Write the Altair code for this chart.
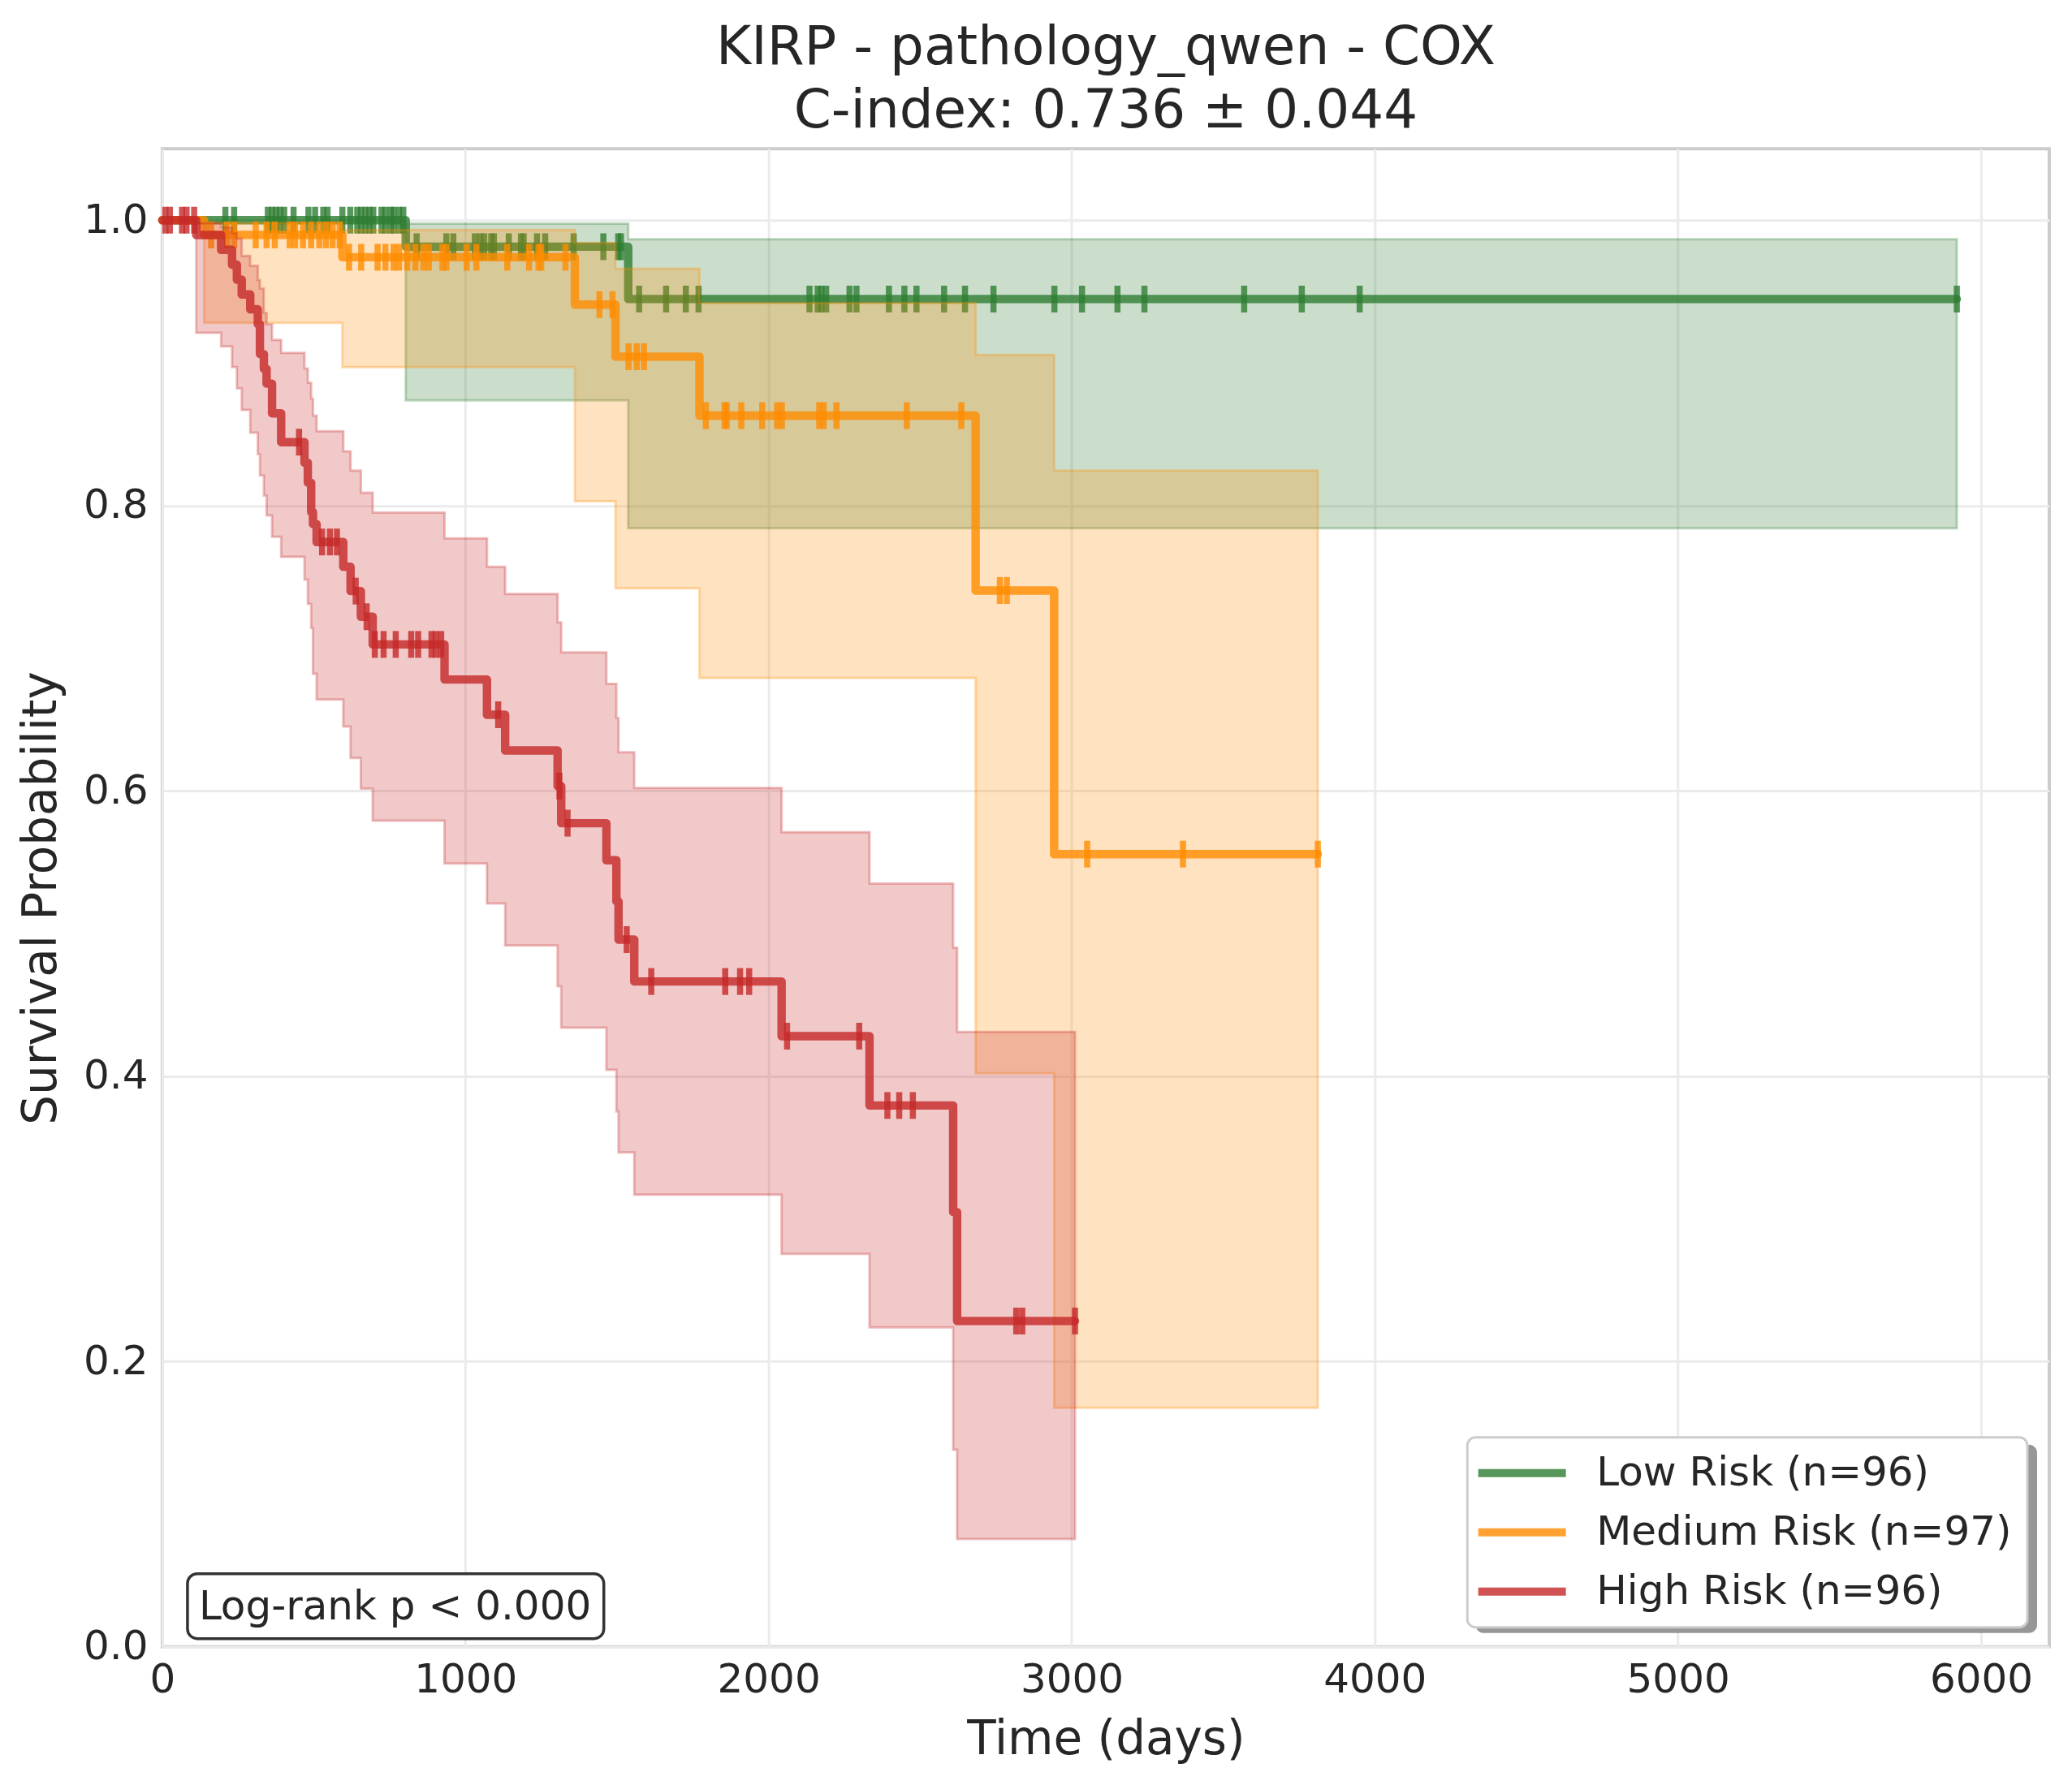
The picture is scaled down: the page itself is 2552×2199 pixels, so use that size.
import altair as alt
import pandas as pd

GROUPS = ["Low Risk (n=96)", "Medium Risk (n=97)", "High Risk (n=96)"]
COLORS = ["#2E7D32", "#FF8C00", "#C62828"]

# Kaplan-Meier steps (time in days, survival, CI lower/upper)
LOW_T = [0, 803, 1537]
LOW_S = [1.0, 0.9814, 0.9447]
LOW_LO = [1.0, 0.8737, 0.7840]
LOW_HI = [1.0, 0.9975, 0.9866]
LOW_END = 5920
LOW_CENS = [208, 237, 348, 362, 375, 388, 402, 433, 482, 504, 531, 545, 594, 620,
            643, 656, 670, 683, 696, 723, 736, 754, 763, 781, 795, 839, 937, 960,
            1031, 1049, 1062, 1085, 1094, 1143, 1183, 1192, 1236, 1263, 1357, 1455,
            1504, 1513, 1573, 1662, 1727, 1769, 2135, 2162, 2174, 2190, 2267, 2290,
            2397, 2448, 2488, 2579, 2648, 2742, 2943, 3034, 3151, 3240, 3569, 3759,
            3950, 5920]

MED_T = [0, 138, 594, 1361, 1495, 1772, 2683, 2942]
MED_S = [1.0, 0.9897, 0.974, 0.9408, 0.9043, 0.863, 0.7404, 0.5556]
MED_LO = [1.0, 0.928, 0.897, 0.803, 0.742, 0.679, 0.402, 0.1675]
MED_HI = [1.0, 0.998, 0.9932, 0.984, 0.966, 0.942, 0.9056, 0.8245]
MED_END = 3812
MED_CENS = [161, 214, 237, 308, 344, 371, 420, 438, 464, 491, 518, 540, 562, 585,
            616, 656, 710, 736, 763, 781, 808, 835, 861, 879, 924, 937, 1004, 1036,
            1138, 1210, 1241, 1250, 1330, 1442, 1485, 1538, 1565, 1589, 1793, 1855,
            1862, 1910, 1979, 2028, 2044, 2167, 2182, 2224, 2456, 2636, 2763, 2786,
            3051, 3367, 3812]

HIGH_T = [0, 112, 194, 230, 246, 262, 290, 315, 322, 335, 344, 362, 392, 469, 480,
          491, 497, 509, 597, 621, 655, 694, 931, 1071, 1131, 1304, 1316, 1465, 1498,
          1505, 1557, 2043, 2333, 2609, 2622]
HIGH_S = [1.0, 0.9896, 0.9792, 0.9688, 0.9583, 0.9479, 0.9375, 0.9271, 0.9062, 0.8958,
          0.8854, 0.8646, 0.8444, 0.830, 0.816, 0.7954, 0.787, 0.7744, 0.757, 0.740,
          0.722, 0.7026, 0.678, 0.6533, 0.6283, 0.6033, 0.5773, 0.5513, 0.5225, 0.4957,
          0.4663, 0.428, 0.3794, 0.3047, 0.2283]
HIGH_LO = [1.0, 0.921, 0.9115, 0.897, 0.882, 0.867, 0.851, 0.836, 0.821, 0.807, 0.793,
           0.778, 0.764, 0.748, 0.731, 0.714, 0.682, 0.664, 0.645, 0.623, 0.6015, 0.579,
           0.549, 0.521, 0.4915, 0.463, 0.434, 0.4044, 0.3752, 0.3464, 0.3169, 0.2753,
           0.2238, 0.138, 0.0755]
HIGH_HI = [1.0, 0.998, 0.995, 0.991, 0.987, 0.975, 0.968, 0.958, 0.952, 0.935, 0.927,
           0.916, 0.907, 0.896, 0.886, 0.875, 0.863, 0.852, 0.838, 0.8245, 0.809, 0.795,
           0.777, 0.757, 0.738, 0.718, 0.697, 0.675, 0.651, 0.627, 0.602, 0.571, 0.535,
           0.490, 0.431]
HIGH_END = 3011
HIGH_CENS = [10, 25, 65, 80, 105, 451, 527, 553, 576, 638, 674, 701, 730, 770, 821,
             844, 888, 902, 920, 1108, 1310, 1337, 1532, 1613, 1857, 1906, 1936, 2061,
             2299, 2392, 2431, 2476, 2817, 2837, 3011]

TITLE = ["KIRP - pathology_qwen - COX", "C-index: 0.736 \u00b1 0.044"]
LOGRANK = "Log-rank p < 0.000"

SERIES = [
    (LOW_T, LOW_S, LOW_LO, LOW_HI, LOW_END, LOW_CENS),
    (MED_T, MED_S, MED_LO, MED_HI, MED_END, MED_CENS),
    (HIGH_T, HIGH_S, HIGH_LO, HIGH_HI, HIGH_END, HIGH_CENS),
]


def step_frame(name, t, s, lo, hi, end):
    df = pd.DataFrame({"t": t + [end], "s": s + [s[-1]],
                       "lo": lo + [lo[-1]], "hi": hi + [hi[-1]]})
    df["group"] = name
    return df


def censor_frame(name, t, s, cens):
    ys = []
    for c in cens:
        idx = max(i for i, ti in enumerate(t) if ti <= c)
        ys.append(s[idx])
    return pd.DataFrame({"t": cens, "s": ys, "group": name})


x_scale = alt.Scale(domain=[0, 6225], nice=False, zero=False)
y_scale = alt.Scale(domain=[0, 1.05], nice=False, zero=False)
x_axis = alt.Axis(values=[0, 1000, 2000, 3000, 4000, 5000, 6000], title="Time (days)",
                  labelPadding=16, titlePadding=20, format="d", labelFlush=False)
y_axis = alt.Axis(values=[0, 0.2, 0.4, 0.6, 0.8, 1.0], title="Survival Probability",
                  labelPadding=18, titlePadding=22, format=".1f", labelFlush=False)

legend = alt.Legend(title=None, orient="none", legendX=1608, legendY=1588,
                    symbolType="M-1.7,0H4.3", symbolSize=1296, symbolStrokeWidth=10,
                    symbolOpacity=0.8, labelFontSize=50, labelFont="DejaVu Sans",
                    labelColor="#262626", labelOffset=90, labelLimit=1000,
                    rowPadding=23, padding=19,
                    fillColor="white", strokeColor="#cccccc", cornerRadius=10)
color = alt.Color("group:N", scale=alt.Scale(domain=GROUPS, range=COLORS), legend=legend)

layers = []
for name, col, (t, s, lo, hi, end, cens) in zip(GROUPS, COLORS, SERIES):
    sd = step_frame(name, t, s, lo, hi, end)
    cd = censor_frame(name, t, s, cens)

    band = alt.Chart(sd).mark_area(
        interpolate="step-after", fill=col, fillOpacity=0.25,
        stroke=col, strokeOpacity=0.3, strokeWidth=3
    ).encode(
        x=alt.X("t:Q", scale=x_scale, axis=x_axis),
        y=alt.Y("lo:Q", scale=y_scale, axis=y_axis),
        y2="hi:Q",
    )

    line = alt.Chart(sd).mark_line(
        interpolate="step-after", strokeWidth=10.4, opacity=0.8,
        strokeCap="round", strokeJoin="round"
    ).encode(
        x=alt.X("t:Q", scale=x_scale, axis=x_axis),
        y=alt.Y("s:Q", scale=y_scale, axis=y_axis),
        color=color,
    )

    ticks = alt.Chart(cd).mark_tick(
        orient="vertical", size=33, thickness=7.5, opacity=0.8, color=col
    ).encode(
        x=alt.X("t:Q", scale=x_scale, axis=x_axis),
        y=alt.Y("s:Q", scale=y_scale, axis=y_axis),
    )
    layers += [band, line, ticks]

# shadow behind the legend box (matplotlib legend shadow=True)
shadow = alt.Chart(pd.DataFrame({"k": [0]})).mark_rect(
    fill="#8c8c8c", opacity=0.9, cornerRadius=10
).encode(x=alt.value(1618), x2=alt.value(2310), y=alt.value(1597), y2=alt.value(1829))

note_df = pd.DataFrame({"label": [LOGRANK]})
note_box = alt.Chart(note_df).mark_rect(
    fill="white", stroke="#333333", strokeWidth=3.5, cornerRadius=12
).encode(x=alt.value(31), x2=alt.value(544), y=alt.value(1756), y2=alt.value(1836))
note_text = alt.Chart(note_df).mark_text(
    align="left", baseline="middle", fontSize=50, font="DejaVu Sans", color="#262626"
).encode(x=alt.value(45), y=alt.value(1797), text="label:N")

chart = alt.layer(*layers, shadow, note_box, note_text).properties(
    width=2325,
    height=1846,
    padding={"left": 14, "top": 18, "right": 20, "bottom": 10},
    title=alt.Title(TITLE, fontSize=66, font="DejaVu Sans", fontWeight="normal",
                    color="#262626", lineHeight=78, offset=12, anchor="middle"),
).configure(
    font="DejaVu Sans", background="white"
).configure_view(
    stroke="#cccccc", strokeWidth=4
).configure_axis(
    labelFont="DejaVu Sans", labelFontSize=50, labelColor="#262626",
    titleFont="DejaVu Sans", titleFontSize=58, titleFontWeight="normal",
    titleColor="#262626", gridColor="#ebebeb", gridWidth=3,
    domain=False, ticks=False
).configure_legend(
    strokeWidth=3
)

chart.save("out.html", embed_options={"renderer": "svg", "actions": False})
